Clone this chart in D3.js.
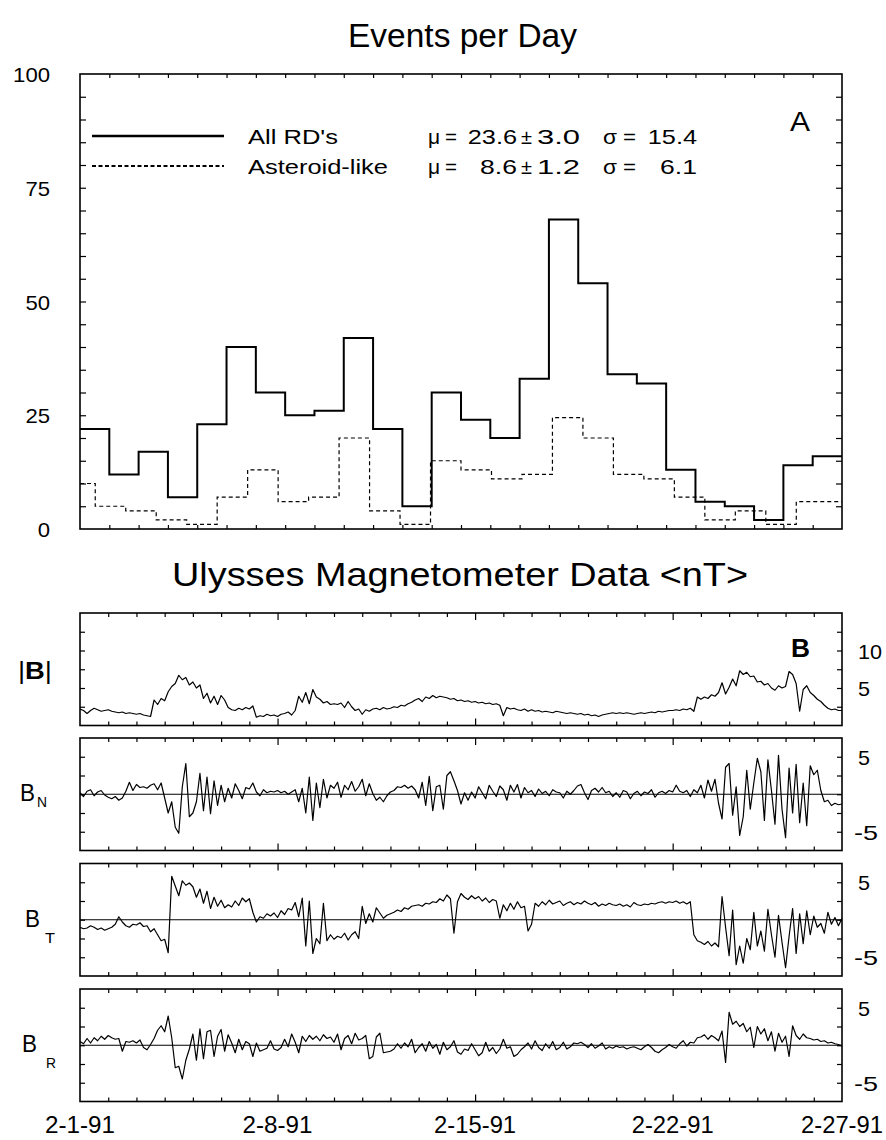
<!DOCTYPE html>
<html><head><meta charset="utf-8">
<script src="https://cdn.jsdelivr.net/npm/d3@7"></script>
<style>body{margin:0;background:#fff}svg{display:block;font-family:"Liberation Sans",Arial,sans-serif}</style>
</head><body><svg id="c" width="886" height="1140"></svg>
<script>
// ---------- Panel A data ----------
const dayBins = 26;
const allRD = [22,12,17,7,23,40,30,25,26,42,22,5,30,24,20,33,68,54,34,32,13,6,5,2,14,16];
const asteroid = [10,5,4,2,1,7,13,6,7,20,4,1,15,13,11,12,24.5,20,12,11,7,2,4,1,6,6];
const yTicksA = [0,25,50,75,100];
const legendRows = [
  {name:"All RD's", mu:"23.6", err:"3.0", sigma:"15.4"},
  {name:"Asteroid-like", mu:"8.6", err:"1.2", sigma:"6.1"}
];
// ---------- Panel B data (8 samples per day, 2-1-91 .. 2-28-91 00h) ----------
const samplesPerDay = 8;
const magDays = 27;
const dateLabels = [[0,"2-1-91"],[7,"2-8-91"],[14,"2-15-91"],[21,"2-22-91"],[27,"2-27-91"]];
const Bmag = [
2.2,2.0,1.6,2.0,2.3,2.1,1.9,2.0, 2.1,1.9,1.8,1.7,1.8,1.6,1.7,1.6, 1.5,1.6,1.4,1.3,1.2,3.4,2.8,3.6,
3.3,4.5,5.2,5.6,6.7,6.1,6.4,5.4, 5.8,5.0,5.4,3.6,4.3,3.0,3.9,2.8, 4.0,3.4,2.4,2.1,2.0,2.3,2.1,2.4,
2.2,2.6,1.1,1.3,1.2,1.5,1.3,1.4, 1.2,1.5,1.6,1.8,1.4,2.0,3.9,3.1, 4.4,2.9,4.8,3.8,3.5,3.0,3.2,2.8,
2.9,2.8,3.0,2.4,3.2,2.5,2.0,2.2, 1.5,2.1,1.9,2.2,2.3,2.1,2.4,2.2, 2.3,2.5,2.4,2.7,2.6,2.9,3.1,3.4,
3.6,3.2,3.8,3.6,4.0,3.7,3.9,3.8, 3.7,3.5,3.6,3.3,3.4,3.2,3.3,3.1, 3.2,3.0,3.1,2.9,3.0,2.8,2.9,2.7,
1.3,2.4,2.2,2.3,2.1,2.0,2.2,1.9, 2.1,1.9,2.0,1.8,1.9,1.8,1.7,1.9, 1.8,1.7,1.6,1.7,1.6,1.5,1.6,1.4,
1.5,1.3,1.4,1.2,1.4,1.5,1.6,1.7, 1.6,1.7,1.6,1.7,1.6,1.5,1.6,1.7, 1.6,1.7,1.8,1.7,1.9,1.8,1.9,2.0,
2.0,2.1,2.0,2.2,2.1,2.3,1.9,3.8, 3.5,3.8,3.6,4.1,3.9,4.4,5.7,4.2, 5.1,6.2,5.3,7.3,6.8,7.1,6.5,6.6,
5.8,5.9,5.4,5.6,5.0,4.7,5.3,5.0, 5.2,7.2,6.8,5.6,1.9,4.8,5.3,4.4, 4.0,3.5,3.2,2.7,2.3,2.1,2.2,2.0,
2.0];
const BN = [
0.2,-0.3,0.4,0.6,-0.2,0.3,0.5,-0.1, -0.4,-0.6,-0.3,-0.8,-0.5,0.4,1.6,0.5, 1.3,0.9,1.0,0.8,1.2,1.4,0.6,1.5,
-0.5,-2.5,-1.0,-4.4,-5.2,1.0,4.1,-3.0, -2.5,-1.0,2.8,-2.2,2.3,-2.6,1.8,-1.5, 1.2,-1.0,0.8,-0.5,1.4,0.5,-0.6,0.9,
0.7,1.5,0.3,-0.2,0.6,0.2,0.4,0.3, 0.5,0.2,0.4,0.0,0.3,0.6,-1.0,0.8, -2.5,2.3,-3.5,1.5,-1.8,2.0,-0.5,1.2,
0.8,1.6,-0.4,1.2,0.6,1.7,0.4,1.0, 2.0,-0.2,1.4,0.1,-0.8,-0.4,-1.0,-0.2, 0.3,0.5,1.0,0.9,1.2,0.8,1.1,0.6,
-0.5,1.6,-1.5,2.4,-2.2,1.0,1.2,-2.0, 2.5,3.0,1.8,0.5,-1.3,0.2,-0.8,0.3, -0.5,1.0,0.2,-0.6,1.2,0.4,-0.3,1.1,
0.6,-0.8,1.2,0.3,1.3,-0.5,0.9,0.2, 0.5,-0.3,0.7,0.1,0.4,-0.2,0.6,0.3, 0.2,-0.5,0.4,0.0,0.5,1.1,1.3,0.2,
-0.7,0.5,0.8,0.3,0.9,0.2,0.4,-0.3, 0.2,-0.4,0.5,0.3,-0.6,0.1,0.4,-0.2, 0.3,0.1,0.6,-0.4,0.2,0.4,0.1,0.5,
0.3,1.2,0.4,0.2,0.5,-0.3,0.6,0.2, 1.2,-0.5,1.9,0.4,2.0,-1.2,-3.3,3.6, 4.1,-2.8,1.0,-5.5,-3.0,3.2,-2.0,1.5,
4.8,3.0,-3.5,4.6,0.5,-4.0,5.2,-2.0, -5.8,3.5,-2.5,4.0,-3.8,1.5,-4.2,3.8, 2.6,3.2,0.5,-1.0,-0.8,-1.5,-1.2,-1.4,
-1.3];
const BT = [
-1.0,-1.2,-1.1,-0.8,-1.0,-1.3,-1.1,-1.4, -1.2,-1.0,-0.6,0.4,-0.3,-0.8,-1.0,-0.6, -0.7,-0.4,-0.9,-0.8,-1.6,-1.2,-2.0,-2.8,
-2.6,-4.4,5.8,4.5,3.2,5.2,4.6,4.9, 4.4,3.0,4.1,2.2,3.8,1.5,3.0,1.8, 2.6,1.6,2.0,1.7,2.5,1.9,2.9,2.4,
2.8,1.0,-0.3,0.4,0.2,0.8,0.5,0.9, 0.3,1.2,0.7,1.5,1.3,2.3,0.4,2.9, -3.5,2.5,-4.5,-2.5,-3.2,2.2,-2.8,-2.0,
-2.6,-2.2,-2.4,-1.8,-2.7,-2.0,-1.6,-2.5, 1.8,-0.5,0.8,-0.3,1.6,0.9,0.2,0.6, 0.8,1.0,1.3,1.1,1.6,1.4,1.8,1.9,
2.0,1.8,2.2,2.1,2.4,2.3,2.8,2.5, 3.3,2.8,-1.8,2.4,3.5,3.0,2.7,3.2, 2.8,3.1,2.5,2.9,2.3,2.7,2.5,0.2,
2.0,1.2,2.2,1.4,2.4,1.6,1.8,-1.5, -0.6,2.2,1.8,2.4,2.0,2.6,2.1,2.3, 2.5,1.9,2.2,2.4,2.0,2.3,2.1,2.5,
2.2,2.0,2.3,1.8,2.1,1.9,2.2,2.0, 1.9,2.1,1.8,2.0,1.7,2.3,2.0,1.9, 2.1,2.0,2.2,2.1,2.3,2.4,2.2,2.4,
2.3,2.5,2.2,2.4,2.1,2.4,-2.0,-2.8, -3.0,-3.3,-2.9,-3.5,-3.1,-3.6,3.1,-1.0, -4.8,1.3,-6.0,-3.5,-5.8,-2.5,-4.0,1.0,
-3.5,-1.5,-4.2,1.4,-2.0,-5.0,0.6,-3.0, -6.4,-2.2,1.5,-4.5,0.8,-3.2,1.2,-2.0, 0.5,-1.0,-0.5,-1.8,1.0,-0.6,0.3,-0.8,
0.2];
const BR = [
0.5,0.2,0.9,0.3,1.0,0.6,1.2,0.8, 1.3,1.0,0.8,0.9,-0.8,0.5,0.4,0.6, 0.3,0.7,-0.3,-0.6,0.1,0.9,2.0,2.6,
1.8,3.9,1.0,-3.0,-2.8,-4.5,-2.0,-0.5, 1.5,-2.0,2.2,-1.8,1.8,2.0,-1.5,1.2, 2.1,-0.8,1.4,0.3,-1.0,0.8,-0.6,0.5,
0.2,-1.5,0.3,-0.8,-0.6,-0.4,0.6,-0.5, -0.7,-0.3,0.8,-0.2,1.5,0.4,-1.0,1.2, 0.5,1.3,0.8,1.2,0.6,1.4,0.9,1.1,
0.4,1.5,-0.6,0.9,1.3,0.2,1.6,0.7, 0.9,1.3,-1.8,-1.5,1.1,1.6,-1.0,-0.9, -0.8,-0.5,0.2,-0.4,0.3,-0.2,0.8,-1.0,
-0.3,0.2,-0.8,0.5,-0.4,0.1,-1.2,0.4, -0.6,-0.2,0.6,-0.9,-1.2,-0.5,-0.7,0.2, -0.6,-1.4,-1.0,0.4,-0.8,-0.3,-1.1,-0.5,
0.8,-0.4,-0.2,-1.5,-1.2,-0.6,-0.2,0.3, -0.5,0.6,-0.3,-0.7,0.2,-0.4,0.5,-0.6, -0.3,0.4,-0.5,-0.2,0.3,0.2,0.4,0.1,
-0.3,0.2,-0.4,-0.1,0.3,-0.5,-0.2,-0.4, -0.1,-0.3,-0.2,-0.5,-0.3,-0.2,-0.4,-0.6, -0.2,0.1,-0.3,-0.8,-1.0,-0.6,-0.3,0.1,
-0.2,-0.4,0.2,0.6,-0.1,0.4,0.3,1.0, 1.1,1.4,0.8,1.3,1.0,0.6,1.9,-2.3, 4.4,2.8,3.2,2.5,2.9,1.8,2.4,-0.3,
2.5,1.5,2.2,0.6,1.8,-0.8,1.6,0.4, 1.2,-1.5,2.6,1.3,0.8,1.5,1.0,0.9, 0.7,0.8,0.5,0.6,0.3,0.4,0.2,0.1,
-0.1];
const panels = [
  {key:"B", values:Bmag, domain:[0,15], ticks:[2.5,5,7.5,10,12.5], labels:[5,10], zero:false},
  {key:"N", values:BN, domain:[-7.5,7.5], ticks:[-5,-2.5,0,2.5,5], labels:[-5,5], zero:true},
  {key:"T", values:BT, domain:[-7.5,7.5], ticks:[-5,-2.5,0,2.5,5], labels:[-5,5], zero:true},
  {key:"R", values:BR, domain:[-7.5,7.5], ticks:[-5,-2.5,0,2.5,5], labels:[-5,5], zero:true}
];

// ---------- drawing ----------
const svg = d3.select("#c");
const L = 80, R = 842;
function txt(g, s, x, y, size, len, opts={}) {
  const t = g.append("text").attr("x", x).attr("y", y).attr("font-size", size)
    .attr("text-anchor", opts.anchor || "start").attr("fill", "#000").text(s);
  if (opts.bold) t.attr("font-weight", "bold");
  if (len) t.attr("textLength", len).attr("lengthAdjust", "spacingAndGlyphs");
  return t;
}
function styleAxis(g){ g.select(".domain").remove(); g.selectAll(".tick line").attr("stroke","#000").attr("stroke-width",1.2); g.selectAll(".tick text").remove(); }

// Titles
txt(svg, "Events per Day", 348, 47, 33, 229);
txt(svg, "Ulysses Magnetometer Data <nT>", 172, 586, 33, 576);

// Panel A
const xA = d3.scaleLinear().domain([0, dayBins]).range([L, R]);
const xAst = d3.scaleLinear().domain([0, asteroid.length - 1]).range([L, R]);
const yA = d3.scaleLinear().domain([0, 100]).range([529, 74]);
const gA = svg.append("g");
const minorY = d3.range(5, 100, 5);
const dayTicks = d3.range(1, dayBins);
gA.append("g").attr("transform", `translate(0,${yA(0)})`).call(d3.axisBottom(xA).tickValues(dayTicks).tickSize(-4)).call(styleAxis);
gA.append("g").attr("transform", `translate(0,${yA(100)})`).call(d3.axisTop(xA).tickValues(dayTicks).tickSize(-4)).call(styleAxis);
gA.append("g").attr("transform", `translate(${L},0)`).call(d3.axisLeft(yA).tickValues(minorY).tickSize(-6)).call(styleAxis);
gA.append("g").attr("transform", `translate(${R},0)`).call(d3.axisRight(yA).tickValues(minorY).tickSize(-6)).call(styleAxis);
gA.append("rect").attr("x", L).attr("y", yA(100)).attr("width", R - L).attr("height", yA(0) - yA(100))
  .attr("fill", "none").attr("stroke", "#000").attr("stroke-width", 1.6);
yTicksA.forEach(v => { const s = String(v); txt(gA, s, 50, yA(v) + 8, 21, s.length * 12.3, {anchor:"end"}); });

const solidPts = allRD.map((v, i) => [i, v]).concat([[dayBins, allRD[allRD.length - 1]]]);
gA.append("path").datum(solidPts)
  .attr("d", d3.line().x(d => xA(d[0])).y(d => yA(d[1])).curve(d3.curveStepAfter))
  .attr("fill", "none").attr("stroke", "#000").attr("stroke-width", 2);
gA.append("path").datum(asteroid)
  .attr("d", d3.line().x((d, i) => xAst(i)).y(d => yA(d)).curve(d3.curveStep))
  .attr("fill", "none").attr("stroke", "#000").attr("stroke-width", 1.2).attr("stroke-dasharray", "4,3");

// Legend
const legY = [136, 166];
legendRows.forEach((r, i) => {
  const y = legY[i];
  gA.append("line").attr("x1", 92).attr("x2", 224).attr("y1", y).attr("y2", y)
    .attr("stroke", "#000").attr("stroke-width", i === 0 ? 2.6 : 1.8).attr("stroke-dasharray", i === 0 ? null : "4,2.5");
  const b = y + 8;
  txt(gA, r.name, 248, b, 21, i === 0 ? 90 : 140);
  txt(gA, "\u03BC", 428, b, 21);
  txt(gA, "=", 445, b, 21, 12);
  txt(gA, r.mu, 517, b, 21, r.mu.length * 12.3, {anchor:"end"});
  txt(gA, "\u00B1", 521, b, 21, 11);
  txt(gA, r.err, 537, b, 21, 43);
  txt(gA, "\u03C3", 603, b, 21, 14);
  txt(gA, "=", 623, b, 21, 13);
  txt(gA, r.sigma, 697, b, 21, r.sigma.length * 12.3, {anchor:"end"});
});
txt(gA, "A", 790, 131, 27, 20);

// Panel B
const xM = d3.scaleLinear().domain([0, magDays]).range([L, R]);
const panelTops = [613, 738, 863.5, 989];
const panelH = 112.5;
const minorDays = d3.range(1, magDays).filter(d => d % 7 !== 0);
const weekDays = [7, 14, 21];
panels.forEach((p, k) => {
  const top = panelTops[k], bot = top + panelH;
  const y = d3.scaleLinear().domain(p.domain).range([bot, top]);
  const g = svg.append("g");
  const clipId = "clip" + k;
  g.append("clipPath").attr("id", clipId).append("rect").attr("x", L).attr("y", top).attr("width", R - L).attr("height", panelH);
  [[bot, d3.axisBottom, -4, minorDays], [bot, d3.axisBottom, -7, weekDays], [top, d3.axisTop, -4, minorDays], [top, d3.axisTop, -7, weekDays]]
    .forEach(([yy, ax, sz, tv]) => g.append("g").attr("transform", `translate(0,${yy})`).call(ax(xM).tickValues(tv).tickSize(sz)).call(styleAxis));
  g.append("g").attr("transform", `translate(${L},0)`).call(d3.axisLeft(y).tickValues(p.ticks).tickSize(-5)).call(styleAxis);
  g.append("g").attr("transform", `translate(${R},0)`).call(d3.axisRight(y).tickValues(p.ticks).tickSize(-5)).call(styleAxis);
  if (p.zero) g.append("line").attr("x1", L).attr("x2", R).attr("y1", y(0)).attr("y2", y(0)).attr("stroke", "#000").attr("stroke-width", 1.1);
  g.append("path").datum(p.values).attr("clip-path", `url(#${clipId})`)
    .attr("d", d3.line().x((d, i) => xM(i / samplesPerDay)).y(d => y(d)))
    .attr("fill", "none").attr("stroke", "#000").attr("stroke-width", 1.2).attr("stroke-linejoin", "round");
  g.append("rect").attr("x", L).attr("y", top).attr("width", R - L).attr("height", panelH)
    .attr("fill", "none").attr("stroke", "#000").attr("stroke-width", 1.6);
  p.labels.forEach(v => { const s = String(v); txt(g, s, v < 0 ? 854 : 858, y(v) + 8, 21, s.length * 12); });
  const mid = (top + bot) / 2;
  if (p.key === "B") {
    const t = g.append("text").attr("x", 18).attr("y", mid + 10).attr("font-size", 23).attr("textLength", 34).attr("lengthAdjust", "spacingAndGlyphs");
    t.append("tspan").text("|");
    t.append("tspan").attr("font-weight", "bold").text("B");
    t.append("tspan").text("|");
    txt(g, "B", 791, top + 44, 25, 19, {bold:true});
  } else {
    const bx = p.key === "T" ? 25 : (p.key === "R" ? 22 : 20);
    const sx = p.key === "T" ? 45 : (p.key === "R" ? 46 : 37);
    const sOff = p.key === "N" ? 6 : 16;
    txt(g, "B", bx, mid + 7, 23, 15);
    txt(g, p.key, sx, mid + 7 + sOff, 15, 10);
  }
});
// Date labels
const gD = svg.append("g");
dateLabels.forEach(([d, s]) => txt(gD, s, xM(d), 1133, 23, s.length > 6 ? 82 : 70, {anchor:"middle"}));
</script></body></html>
